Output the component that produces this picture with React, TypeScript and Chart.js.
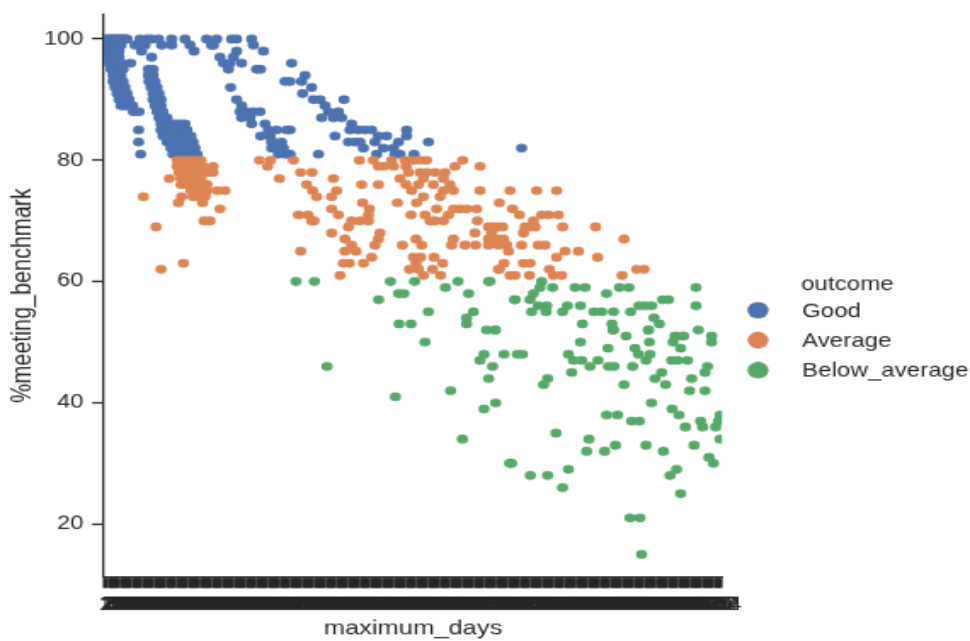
import React, { useEffect, useRef } from "react";
import { Chart, registerables } from "chart.js";

Chart.register(...registerables);

const categoryCount = 309;
// Axis categories: the reference's labels overlap into a solid band, only the ends can be read.
const maximumDays = Array.from({ length: categoryCount }, (_, i) => {
  if (i < 5) return String(i + 1);
  if (i < 14) return String(10 + (i - 5) * 10);
  return String(Math.round(100 + (i - 14) * 2.156));
});
const yTicks = [20, 40, 60, 80, 100];
const outcomes = ["Good", "Average", "Below_average"];
const colors = ["#4c72b0", "#dd8452", "#55a868"];

// [category position, %meeting_benchmark]
const goodDense: number[][] = [
  [0,100],[1,100],[2,100],[3,100],[4,100],[5,100],[6,100],[7,100],[8,100],[9,100],[10,100],[11,100],
  [0,99],[1,99],[2,99],[3,99],[4,99],[5,99],[6,99],[7,99],[8,99],
  [0,98],[1,98],[2,98],[3,98],[4,98],[5,98],[6,98],[7,98],
  [1,97],[2,97],[3,97],[4,97],[5,97],[6,97],[7,97],
  [2,96],[3,96],[4,96],[5,96],[6,96],[7,96],[8,96],[12.8,96],
  [3,95],[4,95],[5,95],[6,95],[7,95],[8,95],[9,95],
  [4,94],[5,94],[6,94],[7,94],[8,94],
  [4,93],[5,93],[6,93],[7,93],[8,93],[9,93],
  [5,92],[6,92],[7,92],[8,92],[9,92],[10,92],
  [6,91],[7,91],[8,91],[9,91],[10,91],[11,91],
  [7,90],[8,90],[9,90],[10,90],[11,90],[12,90],
  [8,89],[9,89],[10,89],[11,89],[12,89],[13.8,89],
  [14.2,88],[17,88],[16.8,85],[16.8,83],[17.8,81],
  [21.7,95],[24,95],[21.7,94],[24,94],[22,93],[25,93],[23,92],[26,92],[24,91],[27,91],[24,90],[28,90],
  [25,89],[28,89],[26,88],[29,88],[27,87],[29,87],[31,87],
  [28,86],[30,86],[32,86],[34,86],[36,86],[38,86],[40,86],
  [28,85],[30,85],[32,85],[34,85],[36,85],[38,85],[40,85],[41,85],
  [29,84],[31,84],[33,84],[35,84],[37,84],[39,84],[41,84],[43,84],
  [31,83],[33,83],[35,83],[37,83],[39,83],[41,83],[43,83],[44,83],
  [33,82],[35,82],[37,82],[39,82],[41,82],[43,82],[45,82],
  [34,81],[36,81],[38,81],[40,81],[42,81],[44,81],[46,81],
];
const goodUpper: number[][] = [
  [15,99],[20,99],[17.5,100],[21,100],[23.3,100],[26.7,100],[28.3,99],[33.3,100],[33.3,99],[40,100],[42.5,99],
  [44.5,98],[18.3,98],[23.3,97],[50.8,100],[55.8,100],[54.2,99],[53.3,99],[63.3,100],[65.8,100],[73.3,100],
  [74.2,99],[79.2,98],[65.8,98],[57.5,97],[59.2,96],[62.5,96],[64.2,97],[68.3,96],[61.7,95],[75.8,95],[77.8,95],
  [62.8,92],[65.8,90],[68.3,89],[67.5,88],[70.8,88],[74.2,88],[77.5,88],[68.3,87],[72.5,87],[73.3,86],[80,86],
  [81.7,85],[77.8,84],[83.3,83],[83.3,82],[86.7,82],[90,81],[92.5,81],
];
const goodTail: number[][] = [
  [93.3,96],[100,94],[90,93],[92.5,93],[98.3,93],[103.3,92],[98.8,91],[104.2,90],[107.5,90],[119.5,90],[110,89],
  [116.7,88],[111.7,88],[108.3,87],[114.2,87],[118.3,87],[123.3,86],[122.5,85],[126.7,85],[130,85],[133.3,85],
  [150.8,85],[136.7,84],[140.8,84],[150.8,84],[115,84],[121.7,83],[125,83],[127.5,83],[135,83],[146.7,83],
  [161.7,83],[129.2,82],[139.2,82],[144.2,82],[208.3,82],[106.7,81],[135.8,81],[145,81],[147.5,81],[154.5,81],
  [92.5,85],[85.8,85],[90.8,85],[82.5,84],[88.3,83],[84.2,83],[89.2,82],[91.7,81],[86.7,81],
];
const averageLeft: number[][] = [
  [36,80],[38.5,80],[41,80],[43.5,80],[46,80],[48,80],
  [36,79],[38,79],[40,79],[42,79],[44,79],[46,79],[49,79],[54,79],
  [37,78],[39,78],[41,78],[43,78],[45,78],[47,78],[51.7,78],[54,78],
  [38,77],[40,77],[42,77],[44,77],[46,77],[48,77],
  [38,76],[41,76],[43,76],[45,76],[47,76],[49,76],[51,76],
  [43,75],[45,75],[47,75],[49,75],[51,75],
  [44,74],[46,74],[48,74],[50,74],
  [19.2,74],[25.5,69],[28,62],[39.2,63],[36.7,73],[38.3,74],[32.2,77],[57.5,72],[49.5,70],[52.5,70],[56.2,75],[60,75],[48.8,73],
  [77.2,80],[82.8,80],[81.3,79],[87.2,77],[94.2,80],[97.8,78],[103.5,78],[100.8,76],[103.8,75],[105.8,74],
  [96.7,71],[101.5,71],[103.3,70],[104.5,70],[97.8,65],
];
const averageMiddle: number[][] = [
  [114.2,77],[115.8,75],[113.3,74],[128.3,76],[136.7,76],[127.2,80],[134.2,80],[136.7,79],[139.2,79],[143.3,80],[144.2,79],
  [150,80],[154.2,80],[157.5,80],[160.8,80],[150.5,79],[151.7,78],[147.5,77],[150.5,76],[153.3,75],[157.5,78],[160.8,78],
  [165,78],[170,78],[175,79],[178.8,80],[187.5,79],[187.5,75],[159.2,77],[156.7,76],[164.2,76],[169.2,77],[172.5,76],
  [174.2,75],[169.2,75],[167.5,74],[159.2,74],[155.8,73],[146.2,73],[128.8,73],[132.2,72],[113.3,72],[116.7,71],[131.7,71],
  [127.5,70],[131.7,70],[123.3,70],[121.7,69],[113.3,68],[137.5,68],[136.7,67],[135,66],[120,67],[123.3,66],[120,65],
  [125.5,65],[133.3,64],[129.2,63],[119.2,63],[122.2,63],[117.5,61],[153,71],[160,71],[165.8,72],[174.2,72],[177.5,72],
  [180.8,72],[185.8,72],[171.7,71],[169.2,70],[165,70],[162.5,70],[186.2,70],[185,68],[191.7,69],[194.2,69],[191.7,67],
  [195.8,67],[196.7,69],[191.7,66],[196.7,66],[174.2,67],[173.3,66],[180,66],[185.3,66],[155.5,67],[158.3,66],[148.7,66],
  [154.2,64],[157.8,64],[155.5,63],[164.5,64],[168.8,63],[163.8,62],[152.2,62],[156.7,62],[159.2,61],[167.8,61],[196.7,62],
];
const averageRight: number[][] = [
  [202.5,75],[215.8,75],[225.8,75],[197.2,73],[203.8,72],[207.2,71],[218.3,71],[221.7,71],[226.7,71],[214.2,70],[212.5,69],
  [215,69],[210,69],[209.2,68],[228.8,69],[245.3,69],[259.5,67],[195.8,69],[198.8,69],[193.3,69],[193.3,68],[195,67],
  [199.2,67],[200.8,66],[201.7,65],[208.3,66],[216.7,66],[220,66],[230,65],[225.8,64],[236.7,65],[246.3,64],[199.5,63],
  [209.2,63],[212.5,63],[197.2,62],[202.5,61],[205,61],[212.2,61],[222.2,62],[224.2,61],[228.3,61],[258.5,61],[265.8,62],[269.5,62],
];
const belowLeft: number[][] = [
  [95.5,60],[104.7,60],[142.7,60],[154.8,60],[176.5,60],[191.8,60],[170.2,59],[181.8,58],[146.8,58],[149.5,58],[136.8,57],
  [204.8,57],[161.7,55],[184.2,55],[180.8,54],[180.8,53],[147,53],[153,53],[190.8,52],[195.2,52],[160,50],[189.5,48],
  [187.5,47],[199.5,48],[193.8,46],[191.8,44],[111,46],[172.8,42],[145.2,41],[195.3,40],[189.5,39],[178.7,34],[202.3,30],
];
const belowUpper: number[][] = [
  [218.3,60],[217.5,59],[223.8,59],[235,59],[240,59],[250.8,58],[257.2,59],[262,59],[295.5,59],[214.2,58],[212.5,57],[205,57],
  [216.7,56],[220.8,56],[213.3,55],[220.5,55],[231.2,56],[228.8,55],[237.7,56],[244.5,55],[248.3,55],[254.2,55],[262.8,55],
  [267,56],[270,56],[273.3,56],[278.8,57],[281.7,57],[295.5,56],[274.5,54],[277.2,53],[238.7,53],[253.5,53],[254.2,52],[195,52],
  [271.7,52],[296.7,52],[192.5,60],
];
const belowLower: number[][] = [
  [254,52],[260.5,51],[271.7,52],[272.2,50],[303.3,51],[303.3,50],[285,51],[289,51],[284,50],[287.8,49],[237.7,50],[251.5,49],
  [265,49],[266.7,48],[272.5,48],[270.5,47],[231.7,48],[234.2,47],[238.3,47],[246.5,47],[242.5,46],[251.7,46],[254.5,46],
  [263.8,46],[283.3,47],[286.3,47],[291.3,47],[301.2,46],[300,45],[233.3,45],[278.3,45],[275,44],[293.3,44],[259.5,43],
  [280.3,43],[292.3,42],[300,42],[273.2,40],[283.5,39],[287,38],[250.8,38],[256.3,38],[263.3,37],[267.2,37],[290.2,36],
  [297.8,37],[298.8,36],[305.3,36],[306.7,37],[307.5,38],[225.5,35],[242,34],[240.8,32],[249.8,32],[255.2,33],[270.5,33],
  [279.2,32],[294.5,33],[307.5,34],[302,31],[304.2,30],[285.8,29],[282.5,28],[287.8,25],[231.7,29],[221.3,28],[212.7,28],
  [228.8,26],[203.3,30],[262.5,21],[267.5,21],[268.3,15],[206.2,48],[208.7,48],[221.3,44],[219.3,43],[285.8,51],[289.2,51],
];

const good = [...goodDense, ...goodUpper, ...goodTail];
const average = [...averageLeft, ...averageMiddle, ...averageRight];
const below = [...belowLeft, ...belowUpper, ...belowLower];
const seriesPoints = [good, average, below];

const W = 570;
const H = 475;
const SX = 970 / W;
const SY = 641 / H;
const INK = "#262626";
const FONT = "'Liberation Sans', Arial, sans-serif";

const legendPlugin = {
  id: "outcomeLegend",
  afterDraw(chart: any) {
    const ctx = chart.ctx;
    ctx.save();
    ctx.fillStyle = INK;
    ctx.textBaseline = "middle";
    ctx.textAlign = "left";
    ctx.font = `14.2px ${FONT}`;
    ctx.fillText("outcome", 801 / SX, 284.5 / SY);
    chart.data.datasets.forEach((ds: any, i: number) => {
      const cy = (311.5 + i * 30) / SY;
      ctx.fillStyle = ds.backgroundColor;
      ctx.beginPath();
      ctx.arc(758 / SX, cy - 1, 6.2, 0, Math.PI * 2);
      ctx.fill();
      ctx.fillStyle = INK;
      ctx.fillText(ds.label, 802 / SX, cy);
    });
    ctx.restore();
  },
};

export default function App() {
  const ref = useRef<HTMLCanvasElement | null>(null);
  useEffect(() => {
    const chart = new Chart(ref.current as HTMLCanvasElement, {
      type: "scatter",
      data: {
        datasets: outcomes.map((label, i) => ({
          label,
          data: seriesPoints[i].map(([x, y]) => ({ x, y })),
          backgroundColor: colors[i],
          borderColor: colors[i],
          pointRadius: 3.3,
          pointBorderWidth: 0,
          order: 3 - i,
        })),
      },
      options: {
        animation: false,
        responsive: false,
        devicePixelRatio: 1,
        layout: { padding: { top: 14 / SY, right: W - 722 / SX, left: 0, bottom: 0 } },
        plugins: { legend: { display: false }, tooltip: { enabled: false } },
        scales: {
          x: {
            type: "linear",
            min: -0.5,
            max: categoryCount - 0.5,
            afterBuildTicks: (scale: any) => {
              scale.ticks = maximumDays.map((_, i) => ({ value: i }));
            },
            afterFit: (scale: any) => {
              scale.height = H - 577 / SY;
              scale.paddingLeft = 0;
              scale.paddingRight = 0;
            },
            border: { display: true, color: INK, width: 1.3 },
            grid: { drawOnChartArea: false, color: INK, tickLength: 8, tickWidth: 2.2, tickColor: INK },
            ticks: {
              autoSkip: false,
              maxRotation: 0,
              minRotation: 0,
              padding: 4,
              color: INK,
              font: { family: FONT, size: 14.5 },
              callback: (v: any) => maximumDays[Math.round(Number(v))],
            },
            title: {
              display: true,
              text: "maximum_days",
              color: INK,
              font: { family: FONT, size: 15 },
              padding: { top: 0, bottom: 0 },
            },
          },
          y: {
            type: "linear",
            min: 100 - (577 - 39) / 6.0625,
            max: 100 + (39 - 14) / 6.0625,
            afterBuildTicks: (scale: any) => {
              scale.ticks = yTicks.map((value) => ({ value }));
            },
            afterFit: (scale: any) => {
              scale.width = 104 / SX;
              scale.paddingTop = 0;
              scale.paddingBottom = 0;
            },
            border: { display: true, color: INK, width: 1.3 },
            grid: { drawOnChartArea: false, color: INK, tickLength: 7, tickWidth: 1.3, tickColor: INK },
            ticks: {
              padding: 5,
              color: INK,
              font: { family: FONT, size: 14 },
              callback: (v: any) => String(v),
            },
            title: {
              display: true,
              text: "%meeting_benchmark",
              color: INK,
              font: { family: FONT, size: 16 },
              padding: { top: 3.5, bottom: 0 },
            },
          },
        },
      },
      plugins: [legendPlugin],
    } as any);
    return () => chart.destroy();
  }, []);

  return (
    <div
      style={{
        position: "fixed",
        left: 0,
        top: 0,
        width: W,
        height: H,
        background: "#fff",
        filter: "blur(0.3px)",
        transform: `scale(${SX}, ${SY})`,
        transformOrigin: "0 0",
      }}
    >
      <canvas ref={ref} width={W} height={H} style={{ display: "block" }} />
    </div>
  );
}
